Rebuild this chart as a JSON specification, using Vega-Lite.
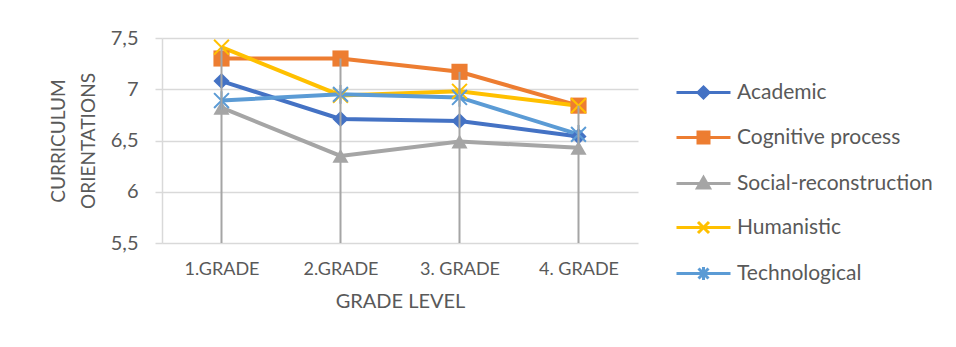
{
  "$schema": "https://vega.github.io/schema/vega-lite/v6.json",
  "width": 476,
  "height": 205,
  "autosize": {"type": "none"},
  "padding": {"left": 162, "top": 38, "right": 318, "bottom": 104},
  "background": "white",
  "config": {
    "font": "Lato",
    "view": {"stroke": null},
    "axis": {"labelColor": "#595959", "titleColor": "#595959", "titleFontWeight": "normal", "labelFont": "Lato", "titleFont": "Lato"},
    "legend": {"labelColor": "#595959", "labelFont": "Lato"}
  },
  "data": {
    "values": [
      {"grade": "1.GRADE", "series": "Academic", "value": 7.08},
      {"grade": "2.GRADE", "series": "Academic", "value": 6.71},
      {"grade": "3. GRADE", "series": "Academic", "value": 6.69},
      {"grade": "4. GRADE", "series": "Academic", "value": 6.54},
      {"grade": "1.GRADE", "series": "Cognitive process", "value": 7.30},
      {"grade": "2.GRADE", "series": "Cognitive process", "value": 7.30},
      {"grade": "3. GRADE", "series": "Cognitive process", "value": 7.17},
      {"grade": "4. GRADE", "series": "Cognitive process", "value": 6.84},
      {"grade": "1.GRADE", "series": "Social-reconstruction", "value": 6.82},
      {"grade": "2.GRADE", "series": "Social-reconstruction", "value": 6.35},
      {"grade": "3. GRADE", "series": "Social-reconstruction", "value": 6.49},
      {"grade": "4. GRADE", "series": "Social-reconstruction", "value": 6.43},
      {"grade": "1.GRADE", "series": "Humanistic", "value": 7.41},
      {"grade": "2.GRADE", "series": "Humanistic", "value": 6.94},
      {"grade": "3. GRADE", "series": "Humanistic", "value": 6.98},
      {"grade": "4. GRADE", "series": "Humanistic", "value": 6.84},
      {"grade": "1.GRADE", "series": "Technological", "value": 6.89},
      {"grade": "2.GRADE", "series": "Technological", "value": 6.95},
      {"grade": "3. GRADE", "series": "Technological", "value": 6.92},
      {"grade": "4. GRADE", "series": "Technological", "value": 6.56}
    ]
  },
  "encoding": {
    "x": {
      "field": "grade", "type": "nominal", "sort": null,
      "scale": {"type": "point", "padding": 0.5},
      "axis": {"title": "GRADE LEVEL", "labelAngle": 0, "ticks": false, "domain": false, "labelPadding": 17, "labelFontSize": 18, "titleFontSize": 20, "titlePadding": 13}
    },
    "y": {
      "field": "value", "type": "quantitative",
      "scale": {"domain": [5.5, 7.5], "zero": false, "nice": false},
      "axis": {
        "title": ["CURRICULUM", "ORIENTATIONS"],
        "values": [5.5, 6, 6.5, 7, 7.5],
        "labelExpr": "replace(format(datum.value, '~g'), '.', ',')",
        "labelFontSize": 20, "labelPadding": 17,
        "tickSize": 7, "tickColor": "#d9d9d9", "tickWidth": 1.5,
        "gridColor": "#d9d9d9", "gridWidth": 1.5,
        "domainColor": "#d9d9d9", "domainWidth": 1.5,
        "titleFontSize": 19, "titleLineHeight": 30, "titlePadding": 12
      }
    },
    "color": {
      "field": "series", "type": "nominal", "sort": null,
      "scale": {"domain": ["Academic", "Cognitive process", "Social-reconstruction", "Humanistic", "Technological"], "range": ["#4472C4", "#ED7D31", "#A5A5A5", "#FFC000", "#5B9BD5"]},
      "legend": {
        "title": null, "orient": "none", "legendX": 530, "legendY": 43, "padding": 0,
        "symbolSize": 400, "symbolStrokeWidth": 3, "labelFontSize": 21, "labelOffset": 22, "rowPadding": 22, "labelLimit": 400,
        "encode": {
          "symbols": {
            "update": {
              "shape": {"signal": "datum.value === 'Academic' ? 'M-2.7,0L2.7,0M0,-0.55L0.55,0L0,0.55L-0.55,0Z' : datum.value === 'Cognitive process' ? 'M-2.7,0L2.7,0M-0.55,-0.55L0.55,-0.55L0.55,0.55L-0.55,0.55Z' : datum.value === 'Social-reconstruction' ? 'M-2.7,0L2.7,0M0,-0.6L0.6,0.45L-0.6,0.45Z' : datum.value === 'Humanistic' ? 'M-2.7,0L2.7,0M-0.55,-0.55L0.55,0.55M-0.55,0.55L0.55,-0.55' : 'M-2.7,0L2.7,0M-0.5,-0.5L0.5,0.5M-0.5,0.5L0.5,-0.5M0,-0.65L0,0.65'"},
              "fill": {"scale": "color", "field": "value"},
              "stroke": {"scale": "color", "field": "value"},
              "opacity": {"value": 1}
            }
          }
        }
      }
    }
  },
  "layer": [
    {
      "mark": {"type": "line", "strokeWidth": 4}
    },
    {
      "transform": [{"filter": "datum.series === 'Academic' || datum.series === 'Cognitive process' || datum.series === 'Social-reconstruction'"}],
      "mark": {"type": "point", "filled": true, "size": 260, "opacity": 1},
      "encoding": {
        "shape": {
          "condition": [
            {"test": "datum.series === 'Academic'", "value": "diamond"},
            {"test": "datum.series === 'Cognitive process'", "value": "square"}
          ],
          "value": "triangle-up"
        }
      }
    },
    {
      "transform": [{"filter": "datum.series === 'Humanistic' || datum.series === 'Technological'"}],
      "mark": {"type": "point", "filled": false, "size": 220, "strokeWidth": 2, "opacity": 1},
      "encoding": {
        "shape": {
          "condition": [
            {"test": "datum.series === 'Humanistic'", "value": "M-1,-1L1,1M-1,1L1,-1"}
          ],
          "value": "M-1,-1L1,1M-1,1L1,-1M0,-1.25L0,1.25"
        }
      }
    },
    {
      "mark": {"type": "rule", "color": "#a5a5a5", "strokeWidth": 2},
      "encoding": {
        "color": null,
        "y": {"aggregate": "max", "field": "value", "type": "quantitative"},
        "y2": {"datum": 5.5}
      }
    }
  ]
}
